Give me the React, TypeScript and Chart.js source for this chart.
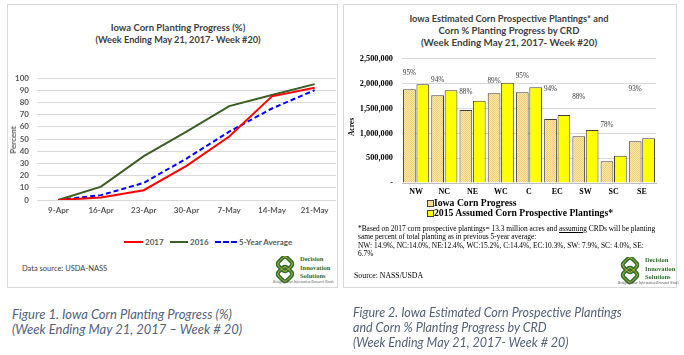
import React, { useEffect, useRef } from "react";
import { Chart, registerables } from "chart.js";

Chart.register(...registerables);

// ---------- Figure 1 data ----------
const weeks = ["9-Apr", "16-Apr", "23-Apr", "30-Apr", "7-May", "14-May", "21-May"];
const progress2017 = [0, 2, 8, 28, 52, 85, 92];
const progress2016 = [0, 11, 36, 56, 77, 86, 95];
const progressAvg = [0, 4, 14, 34, 56, 75, 90];

// ---------- Figure 2 data ----------
const crds = ["NW", "NC", "NE", "WC", "C", "EC", "SW", "SC", "SE"];
const iowaProgress = [1890000, 1770000, 1470000, 1810000, 1830000, 1290000, 940000, 440000, 840000];
const assumedPlantings = [1990000, 1870000, 1660000, 2020000, 1930000, 1370000, 1070000, 550000, 900000];
const pctLabels = ["95%", "94%", "88%", "89%", "95%", "94%", "88%", "78%", "93%"];
const pctLabelAcres = [2215000, 2080000, 1830000, 2060000, 2160000, 1890000, 1735000, 1175000, 1890000];

const SANS = "Lato, 'Open Sans', sans-serif";
const SERIF = "'Liberation Serif', 'DejaVu Serif', serif";

type TxtProps = {
  x: number;
  y: number;
  size: number;
  children: React.ReactNode;
  font?: string;
  weight?: string | number;
  color?: string;
  align?: "left" | "center" | "right";
  italic?: boolean;
  rotate?: boolean;
};

function Txt({ x, y, size, children, font = SANS, weight = "normal", color = "#404040", align = "left", italic = false, rotate = false }: TxtProps) {
  const tx = align === "left" ? "0" : align === "center" ? "-50%" : "-100%";
  const transform = rotate ? "translate(-50%,-50%) rotate(-90deg)" : `translate(${tx},-50%)`;
  return (
    <div
      style={{
        position: "absolute",
        left: x,
        top: y,
        transform,
        fontFamily: font,
        fontSize: size,
        fontWeight: weight as any,
        fontStyle: italic ? "italic" : "normal",
        color,
        whiteSpace: "nowrap",
        lineHeight: 1,
      }}
    >
      {children}
    </div>
  );
}

function Logo({ x, y, w }: { x: number; y: number; w: number }) {
  const green = "#2f6e2c";
  return (
    <div style={{ position: "absolute", left: x, top: y, width: w + 40, height: 30 }}>
      <svg width={24} height={28} viewBox="0 0 24 28" style={{ position: "absolute", left: 0, top: 0 }}>
        <g fill="none">
          <rect x={6} y={2} width={12} height={12} rx={3} transform="rotate(45 12 8)" stroke={green} strokeWidth={4} />
          <rect x={6} y={12} width={12} height={12} rx={3} transform="rotate(45 12 18)" stroke={green} strokeWidth={4} />
          <rect x={6} y={2} width={12} height={12} rx={3} transform="rotate(45 12 8)" stroke="#e0c23c" strokeWidth={0.8} />
          <rect x={6} y={12} width={12} height={12} rx={3} transform="rotate(45 12 18)" stroke="#e0c23c" strokeWidth={0.8} />
        </g>
      </svg>
      <Txt x={27} y={3} size={6.5} font={SERIF} weight="bold" color={green}>Decision</Txt>
      <Txt x={27} y={11.5} size={6.5} font={SERIF} weight="bold" color={green}>Innovation</Txt>
      <Txt x={27} y={19.5} size={6.5} font={SERIF} weight="bold" color={green}>Solutions</Txt>
      <Txt x={0} y={27} size={3.5} font={SERIF} italic color="#555">Bridging Your Information Research Needs</Txt>
    </div>
  );
}

export default function App() {
  const leftRef = useRef<HTMLCanvasElement | null>(null);
  const rightRef = useRef<HTMLCanvasElement | null>(null);

  useEffect(() => {
    const tickFont = { family: SANS, size: 8, weight: "bold" as const };
    const left = new Chart(leftRef.current!, {
      type: "line",
      data: {
        labels: weeks,
        datasets: [
          { label: "2017", data: progress2017, borderColor: "#FF0000", backgroundColor: "#FF0000", borderWidth: 2, pointRadius: 0, fill: false, tension: 0 },
          { label: "2016", data: progress2016, borderColor: "#3B5E24", backgroundColor: "#3B5E24", borderWidth: 2, pointRadius: 0, fill: false, tension: 0 },
          { label: "5-Year Average", data: progressAvg, borderColor: "#0000FF", backgroundColor: "#0000FF", borderWidth: 2, borderDash: [5, 3], pointRadius: 0, fill: false, tension: 0 },
        ],
      },
      options: {
        responsive: false,
        animation: false,
        devicePixelRatio: 1,
        layout: { padding: { top: 18, right: 1, bottom: 0, left: 0 } },
        plugins: { legend: { display: false }, tooltip: { enabled: false }, title: { display: false } },
        scales: {
          x: {
            offset: true,
            grid: { display: false, drawTicks: false },
            border: { display: false },
            ticks: { padding: 6, font: tickFont, color: "#595959", maxRotation: 0, autoSkip: false },
            afterFit: (s: any) => { s.height = 20; },
          },
          y: {
            min: 0,
            max: 100,
            ticks: { stepSize: 10, padding: 8, font: tickFont, color: "#595959", autoSkip: false },
            grid: { color: "#d9d9d9", drawTicks: false },
            border: { display: false },
            afterFit: (s: any) => { s.width = 30; },
          },
        },
      },
    });

    const pc = document.createElement("canvas");
    pc.width = 2;
    pc.height = 2;
    const p = pc.getContext("2d")!;
    p.fillStyle = "#FFE7A6";
    p.fillRect(0, 0, 2, 2);
    p.fillStyle = "#F8CF78";
    p.fillRect(0, 0, 1, 1);
    p.fillRect(1, 1, 1, 1);
    const pattern = rightRef.current!.getContext("2d")!.createPattern(pc, "repeat")!;

    const pctLabelPlugin = {
      id: "pctLabels",
      afterDatasetsDraw(chart: any) {
        const meta = chart.getDatasetMeta(0);
        const y = chart.scales.y;
        const ctx = chart.ctx;
        ctx.save();
        ctx.font = `7.2px ${SERIF}`;
        ctx.fillStyle = "#404040";
        ctx.textAlign = "center";
        ctx.textBaseline = "middle";
        meta.data.forEach((el: any, i: number) => {
          ctx.fillText(pctLabels[i], el.x, y.getPixelForValue(pctLabelAcres[i]));
        });
        ctx.restore();
      },
    };

    const right = new Chart(rightRef.current!, {
      type: "bar",
      data: {
        labels: crds,
        datasets: [
          { label: "Iowa Corn Progress", data: iowaProgress, backgroundColor: pattern as any, borderColor: "#404040", borderWidth: 1, categoryPercentage: 0.95, barPercentage: 0.95 },
          { label: "2015 Assumed Corn Prospective Plantings*", data: assumedPlantings, backgroundColor: "#FFFF00", borderColor: "#404040", borderWidth: 1, categoryPercentage: 0.95, barPercentage: 0.95 },
        ],
      },
      options: {
        responsive: false,
        animation: false,
        devicePixelRatio: 1,
        layout: { padding: { top: 8, right: 20, bottom: 0, left: 0 } },
        plugins: { legend: { display: false }, tooltip: { enabled: false } },
        scales: {
          x: {
            grid: { display: false, drawTicks: false },
            border: { display: true, color: "#bfbfbf" },
            ticks: { padding: 4, font: { family: SERIF, size: 8, weight: "bold" }, color: "#000" },
            afterFit: (s: any) => { s.height = 22; },
          },
          y: {
            min: 0,
            max: 2500000,
            ticks: {
              stepSize: 500000,
              padding: 9,
              autoSkip: false,
              font: { family: SERIF, size: 8.3, weight: "bold" },
              color: "#000",
              callback: (v: any) => (Number(v) === 0 ? "-" : Number(v).toLocaleString("en-US")),
            },
            grid: { color: "#d9d9d9", drawTicks: false },
            border: { display: false },
            afterFit: (s: any) => { s.width = 59; },
          },
        },
      },
      plugins: [pctLabelPlugin],
    });

    return () => {
      left.destroy();
      right.destroy();
    };
  }, []);

  const captionColor = "#52627a";

  return (
    <div style={{ position: "fixed", left: 0, top: 0, width: 684, height: 355, background: "#fff", overflow: "hidden" }}>
      {/* Left panel */}
      <div style={{ position: "absolute", left: 7, top: 4, width: 329, height: 282, border: "1px solid #d9d9d9" }} />
      <Txt x={178} y={28} size={9.5} weight="bold" align="center">Iowa Corn Planting Progress (%)</Txt>
      <Txt x={178} y={40} size={9.2} weight="bold" align="center">(Week Ending May 21, 2017- Week #20)</Txt>
      <canvas ref={leftRef} width={330} height={160} style={{ position: "absolute", left: 7, top: 60, width: 330, height: 160 }} />
      <Txt x={13} y={140} size={8} weight="bold" color="#595959" rotate align="center">Percent</Txt>
      {/* Left legend */}
      <div style={{ position: "absolute", left: 124, top: 241, width: 19, height: 2, background: "#FF0000" }} />
      <Txt x={145} y={242} size={8} weight="bold" color="#595959">2017</Txt>
      <div style={{ position: "absolute", left: 170, top: 241, width: 18, height: 2, background: "#3B5E24" }} />
      <Txt x={190} y={242} size={8} weight="bold" color="#595959">2016</Txt>
      <div style={{ position: "absolute", left: 215, top: 241, width: 22, height: 0, borderTop: "2px dashed #0000FF" }} />
      <Txt x={239} y={242} size={8} weight="bold" color="#595959">5-Year Average</Txt>
      <Txt x={22} y={269} size={7.5} color="#404040">Data source: USDA-NASS</Txt>
      <Logo x={273} y={256} w={62} />

      {/* Right panel */}
      <div style={{ position: "absolute", left: 343, top: 4, width: 332, height: 282, border: "1px solid #d9d9d9" }} />
      <Txt x={509} y={19} size={9.3} weight="bold" align="center">Iowa Estimated Corn Prospective Plantings* and</Txt>
      <Txt x={509} y={31} size={9.5} weight="bold" align="center">Corn % Planting Progress by CRD</Txt>
      <Txt x={509} y={43} size={9.8} weight="bold" align="center">(Week Ending May 21, 2017- Week #20)</Txt>
      <canvas ref={rightRef} width={333} height={160} style={{ position: "absolute", left: 343, top: 45, width: 333, height: 160 }} />
      <Txt x={352} y={127} size={7.5} font={SERIF} weight="bold" color="#000" rotate align="center">Acres</Txt>
      {/* Right legend */}
      <div style={{ position: "absolute", left: 427, top: 200, width: 5, height: 5, background: "#FCDB8D", border: "1px solid #404040" }} />
      <Txt x={434} y={203} size={9.7} font={SERIF} weight="bold" color="#000">Iowa Corn Progress</Txt>
      <div style={{ position: "absolute", left: 427, top: 210, width: 5, height: 5, background: "#FFFF00", border: "1px solid #404040" }} />
      <Txt x={434} y={213} size={9.7} font={SERIF} weight="bold" color="#000">2015 Assumed Corn Prospective Plantings*</Txt>
      {/* Footnote */}
      <div style={{ position: "absolute", left: 358, top: 225, fontFamily: SERIF, fontSize: 7.4, lineHeight: "8.4px", color: "#000", whiteSpace: "nowrap" }}>
        <div>*Based on 2017 corn prospective plantings= 13.3 million acres and <u>assuming</u> CRDs will be planting</div>
        <div>same percent of total planting as in previous 5-year average:</div>
        <div>NW: 14.9%, NC:14.0%, NE:12.4%, WC:15.2%, C:14.4%, EC:10.3%, SW: 7.9%, SC: 4.0%, SE:</div>
        <div>6.7%</div>
      </div>
      <Txt x={354} y={276} size={7.8} font={SERIF} color="#000">Source: NASS/USDA</Txt>
      <Logo x={618} y={257} w={52} />

      {/* Captions */}
      <Txt x={12} y={314} size={13} italic color={captionColor}>Figure 1. Iowa Corn Planting Progress (%)</Txt>
      <Txt x={12} y={329} size={13} italic color={captionColor}>(Week Ending May 21, 2017 – Week # 20)</Txt>
      <Txt x={353} y={313} size={12.5} italic color={captionColor}>Figure 2. Iowa Estimated Corn Prospective Plantings</Txt>
      <Txt x={353} y={328} size={12.5} italic color={captionColor}>and Corn % Planting Progress by CRD</Txt>
      <Txt x={353} y={343} size={12.5} italic color={captionColor}>(Week Ending May 21, 2017- Week # 20)</Txt>
    </div>
  );
}
